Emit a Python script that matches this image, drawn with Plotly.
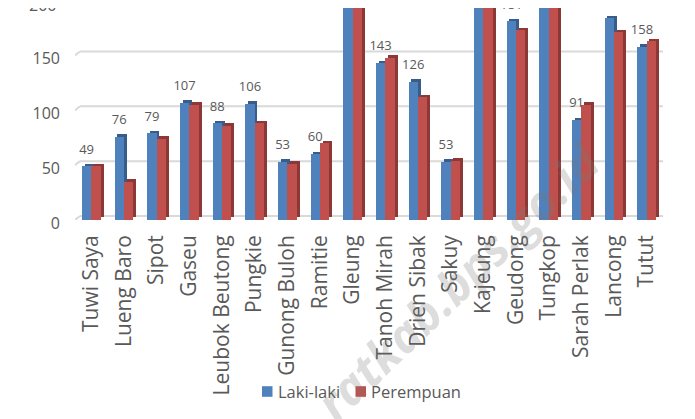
import plotly.graph_objects as go

categories = ["Tuwi Saya", "Lueng Baro", "Sipot", "Gaseu", "Leubok Beutong", "Pungkie",
              "Gunong Buloh", "Ramitie", "Gleung", "Tanoh Mirah", "Drien Sibak", "Sakuy",
              "Kajeung", "Geudong", "Tungkop", "Sarah Perlak", "Lancong", "Tutut"]
laki_laki = [49, 76, 79, 107, 88, 106, 53, 60, 225, 143, 126, 53, 212, 181, 238, 91, 184, 158]
perempuan = [49, 35, 74, 105, 86, 88, 51, 70, 218, 148, 112, 54, 206, 173, 230, 105, 171, 163]
y_ticks = [0, 50, 100, 150]
top_tick = "200"
series_names = ["Laki-laki", "Perempuan"]

# ---- layout constants ----
OFF = 8                      # page body margin offset (window px - figure px)
W, H = 695 - OFF, 419 - OFF
PLOT_L, PLOT_R = 75, 663     # plot area in window px
PLOT_T, PLOT_B = 8, 220
ML, MR, MT = PLOT_L - OFF, W - (PLOT_R - OFF), PLOT_T - OFF
MB = H - (PLOT_B - OFF)
PW = PLOT_R - PLOT_L
PH = PLOT_B - PLOT_T
UPX = 1.097                  # px per value unit
YMAX = PH / UPX
XPX = PW / len(categories)   # px per category unit

FONT = "Open Sans"
TXT = "#595959"
BLUE, BLUE_SIDE = "#4f81bd", "#385d8a"
RED, RED_SIDE = "#c0504d", "#8c3836"

FRONT_W = 0.29
DX = 2.8 / XPX     # 3D depth in x (category units)
DY = 2.6 / UPX     # 3D depth in y (value units)
LABEL_UP = 16 / UPX

xs = list(range(len(categories)))

fig = go.Figure()

def add_series(vals, off, col, side_col, name):
    fig.add_trace(go.Bar(x=xs, y=vals, base=[DY] * len(vals), offset=off + DX, width=FRONT_W,
                         marker=dict(color=side_col, line=dict(width=0)),
                         showlegend=False, hoverinfo="skip"))
    fig.add_trace(go.Bar(x=xs, y=vals, offset=off, width=FRONT_W, name=name,
                         marker=dict(color=col, line=dict(width=0)), showlegend=False))

add_series(laki_laki, -FRONT_W, BLUE, BLUE_SIDE, series_names[0])
add_series(perempuan, 0.0, RED, RED_SIDE, series_names[1])

# data labels for Laki-laki
fig.add_trace(go.Scatter(x=[i - FRONT_W / 2 for i in xs], y=[v + LABEL_UP for v in laki_laki],
                         mode="text", text=[str(v) for v in laki_laki],
                         textfont=dict(family=FONT, size=13, color="#595959"),
                         textposition="middle center", cliponaxis=True,
                         showlegend=False, hoverinfo="skip"))

def wx_to_p(wx):          # window x -> paper x
    return (wx - PLOT_L) / PW

def wy_to_p(wy):          # window y -> paper y
    return (PLOT_B - wy) / PH

def wx_to_x(wx):          # window x -> data x (category index)
    return (wx - PLOT_L) / XPX - 0.5

shapes = []
back = 4 / UPX
for t in y_ticks:
    yb = t + back
    yd = t + back - 7 / UPX
    shapes.append(dict(type="line", xref="x", yref="y", x0=wx_to_x(80), x1=wx_to_x(668),
                       y0=yb, y1=yb, line=dict(color="#d9d9d9", width=2), layer="below"))
    shapes.append(dict(type="line", xref="x", yref="y", x0=wx_to_x(71), x1=wx_to_x(80),
                       y0=yd, y1=yb, line=dict(color="#d9d9d9", width=2), layer="below"))
# chart border (left edge)
shapes.append(dict(type="line", xref="paper", yref="paper", x0=wx_to_p(5.5), x1=wx_to_p(5.5),
                   y0=wy_to_p(430), y1=wy_to_p(7), line=dict(color="#d9d9d9", width=1), layer="above"))

# legend (drawn manually for exact spacing)
LEG_Y = 391.5
leg_items = [(series_names[0], BLUE, 262), (series_names[1], RED, 355.5)]
annotations = []
for name, col, x0 in leg_items:
    shapes.append(dict(type="rect", xref="paper", yref="paper", x0=wx_to_p(x0), x1=wx_to_p(x0 + 10.5),
                       y0=wy_to_p(LEG_Y + 5.3), y1=wy_to_p(LEG_Y - 5.3), fillcolor=col,
                       line=dict(width=0), layer="above"))
    annotations.append(dict(text=name, xref="paper", yref="paper", x=wx_to_p(x0 + 13.5), y=wy_to_p(LEG_Y),
                            xanchor="left", yanchor="middle", showarrow=False,
                            font=dict(family=FONT, size=16.5, color=TXT)))

# top tick label, cut by the image edge
annotations.append(dict(text=top_tick, xref="paper", yref="paper", x=wx_to_p(58), y=wy_to_p(5.5),
                        xanchor="right", yanchor="middle", showarrow=False,
                        font=dict(family=FONT, size=16, color=TXT)))

annotations.append(dict(text="<b><i>ratkab.bps.go.id</i></b>", xref="paper", yref="paper",
                        x=wx_to_p(457), y=wy_to_p(281), showarrow=False, textangle=-44,
                        font=dict(family=FONT, size=48, color="rgba(120,120,120,0.25)"),
                        xanchor="center", yanchor="middle"))

fig.update_layout(
    template="none",
    width=W, height=H, margin=dict(l=ML, r=MR, t=MT, b=MB, pad=0, autoexpand=False),
    paper_bgcolor="white", plot_bgcolor="rgba(0,0,0,0)",
    barmode="overlay", bargap=0, showlegend=False,
    font=dict(family=FONT, size=15, color=TXT),
    xaxis=dict(range=[-0.5, len(categories) - 0.5], tickmode="array", tickvals=xs, ticktext=categories,
               tickangle=-90, showgrid=False, zeroline=False, showline=False, ticks="", automargin=False,
               tickfont=dict(family=FONT, size=21, color=TXT), ticklabelstandoff=10),
    yaxis=dict(range=[0, YMAX], tickvals=y_ticks, showgrid=False, zeroline=False, showline=False,
               ticks="", automargin=False, tickfont=dict(family=FONT, size=16, color=TXT),
               ticklabelstandoff=14, ticklabelshift=3),
    shapes=shapes, annotations=annotations,
)

fig.write_html("out.html")
